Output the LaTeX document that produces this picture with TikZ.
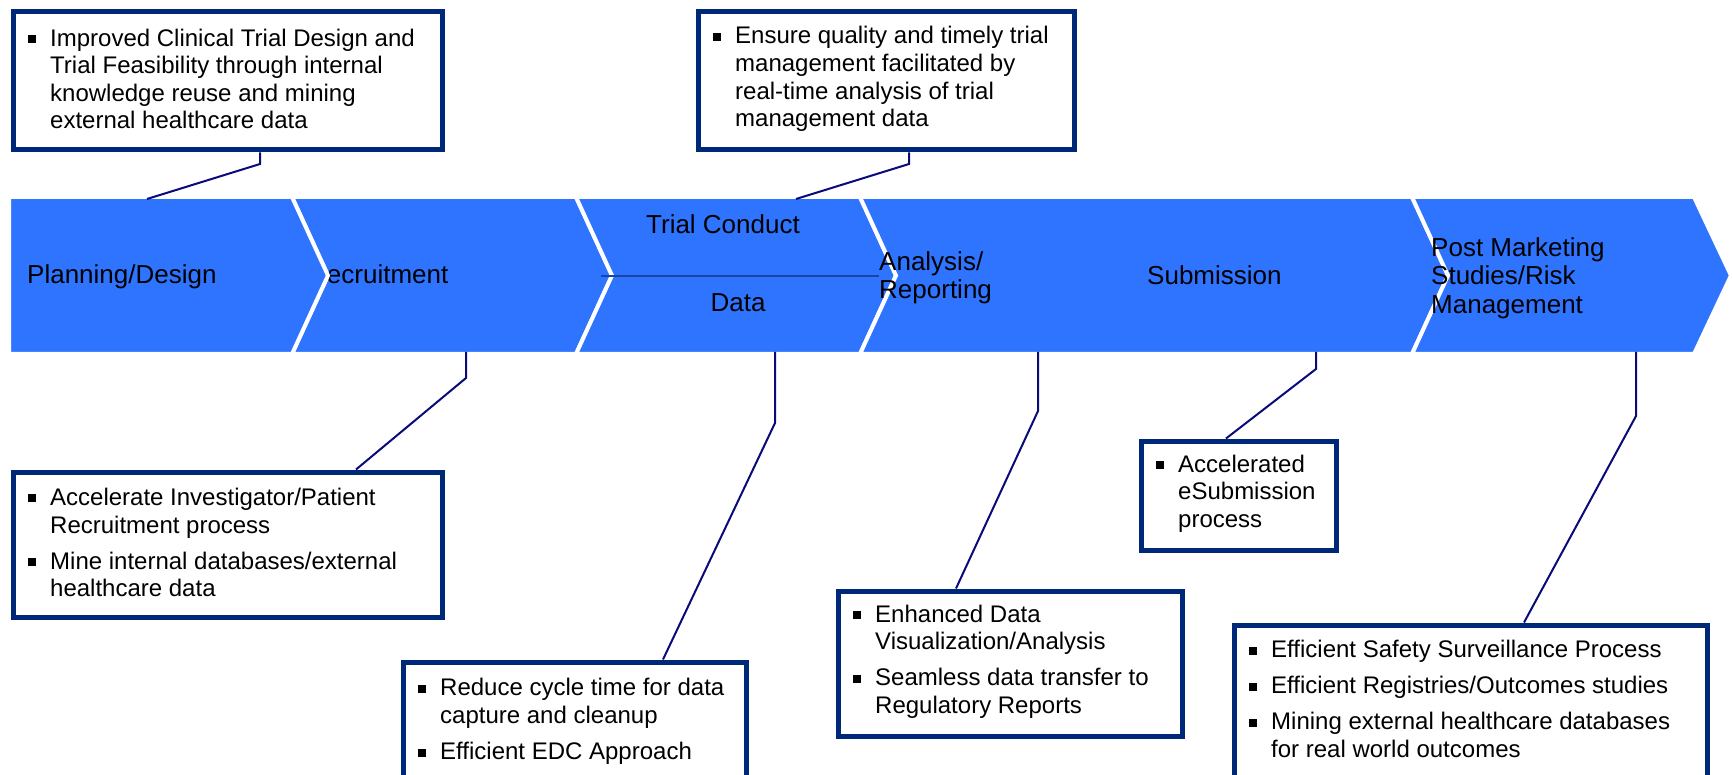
\documentclass[tikz,border=0pt]{standalone}
\usepackage{fontspec}
\setmainfont{Liberation Sans}
\usetikzlibrary{calc}
\definecolor{chev}{RGB}{46,116,255}
\definecolor{navy}{RGB}{0,40,120}
\definecolor{connc}{RGB}{10,10,120}
\definecolor{divl}{RGB}{25,70,160}
\newcommand\bul{\makebox[22pt][l]{\raisebox{3pt}{\rule{8pt}{8pt}}}}
\newcommand\ind{\hspace*{22pt}}
\begin{document}
\begin{tikzpicture}[x=1pt,y=-1pt,
  chevshape/.style={fill=chev,draw=white,line width=4pt,line join=miter},
  ctext/.style={font=\fontsize{26}{28.5}\selectfont,inner sep=0pt,align=left},
  box/.style={draw=navy,line width=5pt,fill=white,inner sep=0pt,anchor=north west},
  btext/.style={font=\fontsize{24}{27.6}\selectfont,inner sep=0pt,align=left,anchor=west,yshift=2pt},
  connector/.style={draw=connc,line width=2pt}]
\useasboundingbox (0,0) rectangle (1732,775);
\clip (0,0) rectangle (1732,775);
\fill[white] (0,0) rectangle (1732,775);

% chevrons
\path[chevshape] (292,197) -- (576,197) -- (612,275.5) -- (576,354) -- (292,354) -- (328,275.5) -- cycle;
\node[ctext,anchor=base west] (trec) at (308,284) {Recruitment};
\path[chevshape] (9,197) -- (292,197) -- (328,275.5) -- (292,354) -- (9,354) -- cycle;
\path[chevshape] (576,197) -- (860,197) -- (896,275.5) -- (860,354) -- (576,354) -- (612,275.5) -- cycle;
\path[chevshape] (860,197) -- (1412,197) -- (1448,275.5) -- (1412,354) -- (860,354) -- (896,275.5) -- cycle;
\path[chevshape] (1412,197) -- (1694,197) -- (1731,275.5) -- (1694,354) -- (1412,354) -- (1448,275.5) -- cycle;
\draw[divl,line width=2.5pt] (601,276) -- (879,276);

% chevron texts
\node[ctext,anchor=base west] (tplan) at (27,284) {Planning/Design};
\node[ctext,anchor=base] (ttrial) at (723,234) {Trial Conduct};
\node[ctext,anchor=base] (tdata) at (738,311.5) {Data};
\node[ctext,anchor=west] (tana) at (879,278) {Analysis/\\Reporting};
\node[ctext,anchor=base west] (tsub) at (1147,285) {Submission};
\node[ctext,anchor=west] (tpost) at (1431,278) {Post Marketing\\Studies/Risk\\Management};

% boxes
\node[box,minimum width=429pt,minimum height=138pt] (b1) at (10.5,9.5) {};
\node[box,minimum width=376pt,minimum height=138pt] (b2) at (695.5,9.5) {};
\node[box,minimum width=429pt,minimum height=145pt] (b3) at (10.5,469.5) {};
\node[box,minimum width=343pt,minimum height=123pt] (b4) at (400.5,659.5) {};
\node[box,minimum width=344pt,minimum height=145pt] (b5) at (835.5,588.5) {};
\node[box,minimum width=195pt,minimum height=109pt] (b6) at (1138.5,438.5) {};
\node[box,minimum width=473pt,minimum height=155pt] (b7) at (1231.5,622.5) {};

% connector coordinates
\coordinate (k1) at (260,164);  \coordinate (e1) at (147,199);
\coordinate (k2) at (909,164);  \coordinate (e2) at (796,199);
\coordinate (s3) at (466,352);  \coordinate (k3) at (466,378);  \coordinate (e3) at (356,467);
\coordinate (s4) at (775,352);  \coordinate (k4) at (775,423);  \coordinate (e4) at (663,657);
\coordinate (s5) at (1038,352); \coordinate (k5) at (1038,411); \coordinate (e5) at (956,586);
\coordinate (s6) at (1316,352); \coordinate (k6) at (1316,369); \coordinate (e6) at (1226,436);
\coordinate (s7) at (1636,352); \coordinate (k7) at (1636,416); \coordinate (e7) at (1524,620);

\draw[connector] (b1.south -| k1) -- (k1) -- (e1);
\draw[connector] (b2.south -| k2) -- (k2) -- (e2);
\draw[connector] (s3) -- (k3) -- (e3 |- b3.north);
\draw[connector] (s4) -- (k4) -- (e4 |- b4.north);
\draw[connector] (s5) -- (k5) -- (e5 |- b5.north);
\draw[connector] (s6) -- (k6) -- (e6 |- b6.north);
\draw[connector] (s7) -- (k7) -- (e7 |- b7.north);

% box texts
\node[btext] (b1t) at ([xshift=17.5pt]b1.west) {\bul Improved Clinical Trial Design and\\\ind Trial Feasibility through internal\\\ind knowledge reuse and mining\\\ind external healthcare data};
\node[btext] (b2t) at ([xshift=17.5pt]b2.west) {\bul Ensure quality and timely trial\\\ind management facilitated by\\\ind real-time analysis of trial\\\ind management data};
\node[btext] (b3t) at ([xshift=17.5pt]b3.west) {\bul Accelerate Investigator/Patient\\\ind Recruitment process\\[8.5pt]\bul Mine internal databases/external\\\ind healthcare data};
\node[btext] (b4t) at ([xshift=17.5pt]b4.west) {\bul Reduce cycle time for data\\\ind capture and cleanup\\[8.5pt]\bul Efficient EDC Approach};
\node[btext] (b5t) at ([xshift=17.5pt]b5.west) {\bul Enhanced Data\\\ind Visualization/Analysis\\[8.5pt]\bul Seamless data transfer to\\\ind Regulatory Reports};
\node[btext] (b6t) at ([xshift=17.5pt]b6.west) {\bul Accelerated\\\ind eSubmission\\\ind process};
\node[btext,yshift=1.5pt] (b7t) at ([xshift=17.5pt]b7.west) {\bul Efficient Safety Surveillance Process\\[8.5pt]\bul Efficient Registries/Outcomes studies\\[8.5pt]\bul Mining external healthcare databases\\\ind for real world outcomes};
\end{tikzpicture}
\end{document}
